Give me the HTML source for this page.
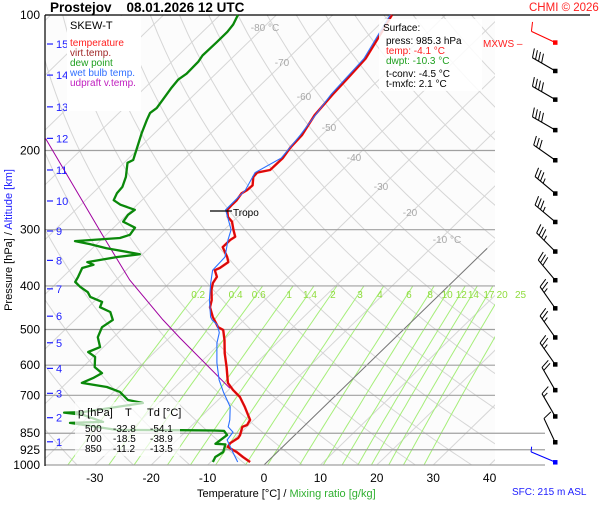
<!DOCTYPE html>
<html><head><meta charset="utf-8">
<style>
html,body{margin:0;padding:0;background:#fff;}
body{width:600px;height:500px;overflow:hidden;font-family:"Liberation Sans",sans-serif;}
svg text{font-family:"Liberation Sans",sans-serif;}
</style></head>
<body>
<svg id="chart" width="600" height="500" viewBox="0 0 600 500" xmlns="http://www.w3.org/2000/svg">
<defs><clipPath id="plotclip"><rect x="45" y="15" width="450" height="450"/></clipPath></defs>
<rect x="45" y="15" width="450" height="450" fill="#fcfcfc"/>
<g id="grid" clip-path="url(#plotclip)"></g>
<g id="plines"></g>
<g id="series"></g>
<g id="barbs"></g>
<g id="labels"></g>
</svg>
<script>
// ---- data ----
const tempP = [985,960,936,912,894,871,858,823,815,794,743,706,681,657,606,564,528,501,494,469,446,430,408,394,382,369,365,354,345,328,316,311,300,288,281,271,264,258,249,245,239,229,224,221,208,197,185,167,150,138,125,112,100];
const tempT = [-3.0,-5.2,-7.2,-9.7,-10.0,-9.5,-9.7,-10.8,-10.3,-10.7,-14.0,-16.7,-19.2,-21.4,-24.5,-27.4,-29.8,-31.9,-33.3,-36.1,-38.4,-39.4,-41.3,-42.3,-42.7,-44.3,-43.8,-43.4,-44.5,-47.1,-47.1,-46.8,-48.4,-50.1,-51.7,-53.1,-53.2,-53.2,-53.6,-53.2,-53.1,-54.5,-54.6,-52.8,-52.7,-53.3,-53.5,-54.9,-55.5,-55.8,-56.2,-57.8,-59.5];
const dewP = [985,960,936,900,897,858,840,838,837,836,806,802,774,765,763,728,717,688,671,657,641,625,606,575,561,547,520,494,476,457,446,434,423,413,402,392,382,365,359,354,345,340,330,323,318,313,308,297,288,278,271,264,258,249,241,229,213,210,200,183,171,165,161,152,145,139,135,127,123,115,109,105,100];
const dewT = [-9.6,-10.1,-9.6,-10.6,-12.5,-12.0,-13.3,-15.2,-20.9,-32.4,-42.1,-36.4,-41.2,-45.0,-41.8,-32.8,-36.0,-38.9,-42.1,-47.3,-46.2,-45.5,-47.9,-49.7,-51.8,-50.6,-52.8,-53.9,-53.3,-55.2,-57.9,-58.5,-61.5,-62.8,-65.1,-66.9,-67.3,-68.2,-66.8,-68.4,-64.0,-60.5,-67.5,-71.2,-74.4,-67.0,-65.8,-66.2,-69.4,-69.8,-69.5,-73.0,-75.0,-75.7,-75.9,-77.1,-79.4,-78.9,-80.1,-82.3,-83.8,-84.5,-84.2,-84.8,-85.3,-85.6,-85.2,-85.3,-85.7,-85.6,-85.6,-85.9,-86.8];
const wbP = [985,936,880,845,823,794,743,690,647,593,536,508,488,476,469,430,394,369,345,316,300,271,245,224,208,185,150,125,100];
const wbT = [-5.2,-7.9,-11.1,-11.5,-13.3,-14.3,-16.6,-20.4,-23.5,-27.0,-30.6,-32.1,-33.9,-35.7,-36.5,-39.8,-42.7,-44.7,-44.9,-47.5,-48.8,-53.4,-53.5,-55.0,-53.0,-53.8,-55.8,-56.5,-59.8];
const parcelP = [675,522,476,388,308,188];
const parcelT = [-20.1,-38.1,-44.4,-57.6,-70.7,-98.4];
const windP = [115,133,154,180,210,249,288,335,388,448,520,597,681,779,889,985];
const windDir = [295,300,300,300,305,310,310,315,320,325,325,325,330,330,335,293];
const windSpd = [10,40,40,40,30,35,35,35,30,25,25,25,20,15,10,5];
const pLevels = [100,200,300,400,500,600,700,850,925,1000];
const tTicks = [-30,-20,-10,0,10,20,30,40];
const kmTicks = [1,2,3,4,5,6,7,8,9,10,11,12,13,14,15];
const kmPress = [888,785,693,610,535,467,406,351,302,259,221,188,160,136,116];
const mixVals = [0.2,0.4,0.6,1,1.4,2,3,4,6,8,10,12,14,17,20,25];
const mixLabels = ["0.2","0.4","0.6","1","1.4","2","3","4","6","8","10","12","14","17","20","25"];
const isoLabelT = [-80,-70,-60,-50,-40,-30,-20,-10];

// ---- axes ----
const NS="http://www.w3.org/2000/svg";
function yP(p){return 15+450*Math.log10(p/100);}
function xT(t,p){return 264+5.64*t+1.03*(465-yP(p));}
function mk(tag,attrs,parent){const e=document.createElementNS(NS,tag);for(const k in attrs)e.setAttribute(k,attrs[k]);parent.appendChild(e);return e;}
const grid=document.getElementById('grid'),plines=document.getElementById('plines'),series=document.getElementById('series'),barbs=document.getElementById('barbs'),labels=document.getElementById('labels');

for(let t=-160;t<=40;t+=10){
  const l=mk('line',{x1:xT(t,1000),y1:yP(1000),x2:xT(t,100),y2:yP(100),stroke:'#d6d6d6','stroke-width':1},grid);
  
  
}
for(let th=220;th<=500;th+=10){
  let d='';
  for(let p=100;p<=1000;p+=10){const t=th*Math.pow(p/1000,0.286)-273.15;d+=(p===100?'M':'L')+xT(t,p).toFixed(1)+','+yP(p).toFixed(1);}
  const a=mk('path',{d:d,fill:'none',stroke:'#d6d6d6','stroke-width':1},grid);
  
  
}
mixVals.forEach((w,i)=>{
  let d='';
  for(let p=400;p<=1000;p+=20){const e=w*p/(622+w);const g=Math.log(e/6.112);const t=243.5*g/(17.67-g);d+=(p===400?'M':'L')+xT(t,p).toFixed(1)+','+yP(p).toFixed(1);}
  const m=mk('path',{d:d,fill:'none',stroke:'#a6ee7a','stroke-width':1},grid);
  
  
  const e4=w*400/(622+w);const g4=Math.log(e4/6.112);const t4=243.5*g4/(17.67-g4);
  const tx=mk('text',{x:xT(t4,400)-4,y:298,'font-size':10,fill:'#8fdc3c','text-anchor':'middle'},labels);
  tx.textContent=mixLabels[i];
  
  
});
{const z=mk('line',{x1:xT(0,1000),y1:yP(1000),x2:xT(0,330),y2:yP(330),stroke:'#777','stroke-width':1},grid);
}
const isoLabPos=[[265,31],[282,66],[304,100],[329,131],[354,161],[381,190],[410,216],[447,243]];
isoLabelT.forEach((t,i)=>{
  const tx=mk('text',{x:isoLabPos[i][0],y:isoLabPos[i][1],'font-size':10,fill:'#a8a8a8','text-anchor':'middle'},labels);
  tx.textContent=(t===-80||t===-10)?(t+' °C'):String(t);
  
  
});
pLevels.forEach(p=>{
  const ext=(p>=850)?545:495;
  const l=mk('line',{x1:45,y1:yP(p),x2:(p===100?590:ext),y2:yP(p),stroke:(p===100?'#000':'#a0a0a0'),'stroke-width':1.2},plines);
  
  
  const tx=mk('text',{x:40,y:yP(p)+4,'font-size':12,fill:'#000','text-anchor':'end'},labels);
  tx.textContent=p;
  
  
});
{const ax=mk('line',{x1:45,y1:15,x2:45,y2:466,stroke:'#000','stroke-width':1.2},plines);}
tTicks.forEach(t=>{
  const tx=mk('text',{x:xT(t,1000),y:482,'font-size':12,fill:'#000','text-anchor':'middle'},labels);
  tx.textContent=t;
  
  
});
kmTicks.forEach((k,i)=>{
  const y=yP(kmPress[i]);
  const l=mk('line',{x1:47,y1:y,x2:53,y2:y,stroke:'#2020ff','stroke-width':1.2},labels);
  
  
  const tx=mk('text',{x:56,y:y+4,'font-size':11,fill:'#2020ff'},labels);
  tx.textContent=k;
  
  
});

function pathFrom(P,T){return P.map((p,i)=>(i?'L':'M')+xT(T[i],p).toFixed(1)+','+yP(p).toFixed(1)).join('');}
const pv=mk('path',{d:pathFrom(parcelP,parcelT),fill:'none',stroke:'#a000a0','stroke-width':1},series);


const dw=mk('path',{d:pathFrom(dewP,dewT),fill:'none',stroke:'#0a880a','stroke-width':2.3,'stroke-linejoin':'round'},series);


const tl=mk('path',{d:pathFrom(tempP,tempT),fill:'none',stroke:'#ff0000','stroke-width':2.4,'stroke-linejoin':'round'},series);


const vt=mk('path',{d:pathFrom(tempP,tempT),fill:'none',stroke:'#b01818','stroke-width':0.8},series);


const wb=mk('path',{d:pathFrom(wbP,wbT),fill:'none',stroke:'#2a70ff','stroke-width':1.1},series);



windP.forEach((p,i)=>{
  const cx=555,cy=yP(p);
  const a=windDir[i]*Math.PI/180;
  const ux=Math.sin(a),uy=-Math.cos(a);
  const L=26;
  const col=(i===0)?'#ff0000':(i===windP.length-1?'#0000ff':'#000');
  const g=mk('g',{},barbs);
  
  
  mk('line',{x1:cx,y1:cy,x2:cx+ux*L,y2:cy+uy*L,stroke:col,'stroke-width':1.1},g);
  mk('rect',{x:cx-2,y:cy-2,width:4.5,height:4.5,fill:col},g);
  const fx=-uy,fy=ux;
  let s=windSpd[i],k=0;
  while(s>=10){const bx=cx+ux*(L-k*3.5),by=cy+uy*(L-k*3.5);mk('line',{x1:bx,y1:by,x2:bx+fx*9+ux*3,y2:by+fy*9+uy*3,stroke:col,'stroke-width':1},g);s-=10;k++;}
  if(s>=5){const bx=cx+ux*(L-k*3.5),by=cy+uy*(L-k*3.5);mk('line',{x1:bx,y1:by,x2:bx+fx*5+ux*1.5,y2:by+fy*5+uy*1.5,stroke:col,'stroke-width':1},g);}
});
</script>
<div style="position:absolute;left:0;top:0;width:600px;height:500px;pointer-events:none">
<svg width="600" height="500" xmlns="http://www.w3.org/2000/svg">
<text x="50" y="12" font-size="13.5" font-weight="bold" fill="#000" font-family="Liberation Sans, sans-serif" xml:space="preserve" style="white-space:pre">Prostejov    08.01.2026 12 UTC</text>
<text x="529" y="11" font-size="11.5" fill="#ff2020" font-family="Liberation Sans, sans-serif">CHMI © 2026</text>
<g font-family="Liberation Sans, sans-serif" font-size="10">
<rect x="67" y="16" width="74" height="95" fill="#fff"/>
<text x="70" y="29" font-size="11" fill="#000">SKEW-T</text>
<text x="70" y="46" fill="#ff2020">temperature</text>
<text x="70" y="56" fill="#a02828">virt.temp.</text>
<text x="70" y="66" fill="#20a020">dew point</text>
<text x="70" y="76" fill="#3070ff">wet bulb temp.</text>
<text x="70" y="86" fill="#c020c0">udpraft v.temp.</text>
</g>
<g font-family="Liberation Sans, sans-serif" font-size="10">
<rect x="379" y="19" width="103" height="72" fill="#fff" fill-opacity="0.85"/>
<text x="383" y="31" fill="#000">Surface:</text>
<text x="386" y="44" fill="#000">press: 985.3 hPa</text>
<text x="386" y="54" fill="#ff2020">temp: -4.1 °C</text>
<text x="386" y="64" fill="#20a020">dwpt: -10.3 °C</text>
<text x="386" y="77" fill="#000">t-conv: -4.5 °C</text>
<text x="386" y="87" fill="#000">t-mxfc: 2.1 °C</text>
</g>
<text x="483" y="47" font-size="10" fill="#ff2020" font-family="Liberation Sans, sans-serif">MXWS –</text>
<g>
<line x1="210" y1="211" x2="232" y2="211" stroke="#000" stroke-width="1.2"/>
<text x="233" y="216" font-size="10" fill="#000" font-family="Liberation Sans, sans-serif">Tropo</text>
</g>
<g font-family="Liberation Sans, sans-serif" font-size="10" fill="#000">
<rect x="75" y="402" width="105" height="54" fill="#fff" fill-opacity="0.7"/>
<text x="78" y="416" font-size="11">p [hPa]</text><text x="125" y="416" font-size="11">T</text><text x="147" y="416" font-size="11">Td [°C]</text>
<text x="85" y="432">500</text><text x="113" y="432">-32.8</text><text x="150" y="432">-54.1</text>
<text x="85" y="442">700</text><text x="113" y="442">-18.5</text><text x="150" y="442">-38.9</text>
<text x="85" y="452">850</text><text x="113" y="452">-11.2</text><text x="150" y="452">-13.5</text>
</g>
<text transform="translate(12,240) rotate(-90)" text-anchor="middle" font-size="11" font-family="Liberation Sans, sans-serif"><tspan fill="#000">Pressure [hPa]  /  </tspan><tspan fill="#2020ff">Altitude [km]</tspan></text>
<text x="197" y="497" font-size="11" font-family="Liberation Sans, sans-serif"><tspan fill="#000">Temperature [°C]  /  </tspan><tspan fill="#30b030">Mixing ratio [g/kg]</tspan></text>
<text x="512" y="495" font-size="10" fill="#2020ff" font-family="Liberation Sans, sans-serif">SFC: 215 m ASL</text>
</svg>
</div>
</body></html>
